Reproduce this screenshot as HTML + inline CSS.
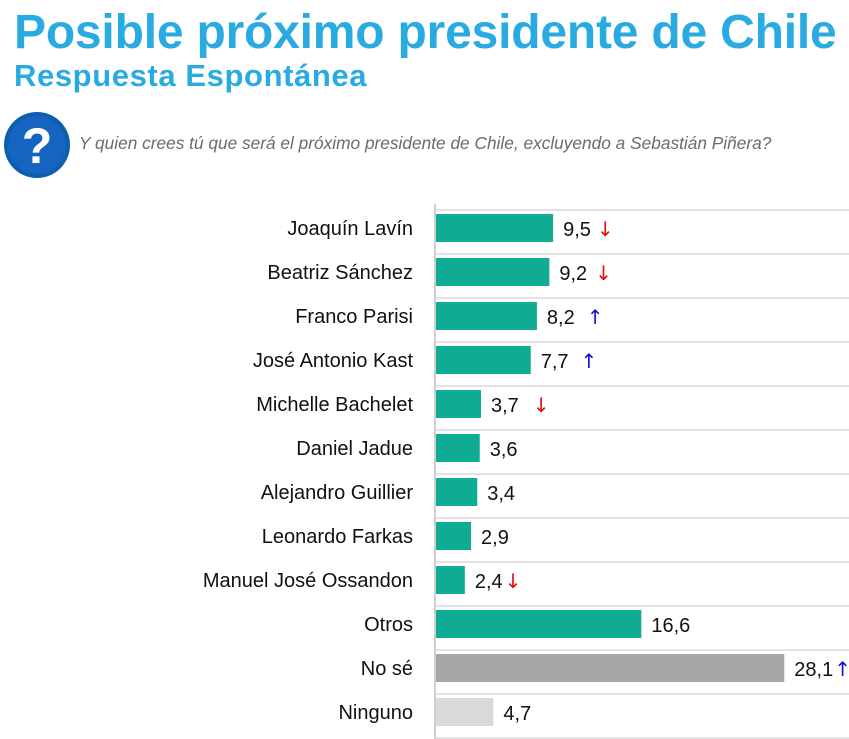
<!DOCTYPE html>
<html><head><meta charset="utf-8"><style>
body{margin:0;width:849px;height:739px;background:#fff;overflow:hidden;font-family:"Liberation Sans",sans-serif;position:relative}
#t1{position:absolute;left:14px;top:5px;font-size:48px;font-weight:bold;color:#29abe2;letter-spacing:-0.2px;white-space:nowrap}
#t2{position:absolute;left:14px;top:58px;font-size:31px;font-weight:bold;color:#29abe2;letter-spacing:0.6px;white-space:nowrap}
#q{position:absolute;left:79px;top:133px;font-size:17.3px;font-style:italic;color:#6b6b6b;white-space:nowrap}
svg{position:absolute;left:0;top:0}
</style></head><body>
<div id="t1">Posible próximo presidente de Chile</div>
<div id="t2">Respuesta Espontánea</div>
<svg width="80" height="200" style="left:0;top:0">
<circle cx="37" cy="145" r="33" fill="#0b5fb0"/><circle cx="37" cy="145" r="29" fill="#1565c0"/>
<text x="37" y="163" text-anchor="middle" font-size="50" font-weight="bold" fill="#fff" font-family="Liberation Sans">?</text></svg>
<div id="q">Y quien crees tú que será el próximo presidente de Chile, excluyendo a Sebastián Piñera?</div>
<svg id="chart" width="849" height="739"></svg>
<script>
const categories=["Joaquín Lavín","Beatriz Sánchez","Franco Parisi","José Antonio Kast","Michelle Bachelet","Daniel Jadue","Alejandro Guillier","Leonardo Farkas","Manuel José  Ossandon","Otros","No sé","Ninguno"];
const values=[9.5,9.2,8.2,7.7,3.7,3.6,3.4,2.9,2.4,16.6,28.1,4.7];
const labels=["9,5","9,2","8,2","7,7","3,7","3,6","3,4","2,9","2,4","16,6","28,1","4,7"];
const trends=["down","down","up","up","down","","","","down","","up",""];
const groups=["c","c","c","c","c","c","c","c","c","c","ns","n"];
const NS="http://www.w3.org/2000/svg";
const svg=document.getElementById('chart');
const x0=435,scale=12.43,top0=210,pitch=44,bh=28;
const xs=v=>x0+v*scale, yc=i=>top0+pitch*i+18;
const colors={c:"#0fab93",ns:"#a6a6a6",n:"#d9d9d9"};
const gaps=[6,8,12,12,14,0,0,0,2,0,1,0];
function mk(t,a){const e=document.createElementNS(NS,t);for(const k in a)e.setAttribute(k,a[k]);svg.appendChild(e);return e;}
for(let i=0;i<=categories.length;i++){
 const g=mk('line',{x1:x0,x2:849,y1:top0+pitch*i,y2:top0+pitch*i,stroke:"#e3e3e3","stroke-width":2});
 
 
}
const ax=mk('line',{x1:x0,x2:x0,y1:204,y2:739,stroke:"#d0d0d0","stroke-width":2});


categories.forEach((c,i)=>{
 const y=yc(i);
 const b=mk('rect',{x:x0+1,y:y-bh/2,width:xs(values[i])-x0-1,height:bh,fill:colors[groups[i]]});
 
 
 const l=mk('text',{x:413,y:y+7,"text-anchor":"end","font-size":20,fill:"#111","font-family":"Liberation Sans"});
 l.textContent=c;
 
 
 const v=mk('text',{x:xs(values[i])+10,y:y+8,"font-size":20,fill:"#111","font-family":"Liberation Sans"});
 v.textContent=labels[i];
 
 
 if(trends[i]){
  const w=v.getComputedTextLength();
  const ar=mk('text',{x:xs(values[i])+10+w+gaps[i],y:y+8,"font-size":20,fill:trends[i]=="up"?"#1010e0":"#e01010","font-family":"DejaVu Sans"});
  ar.textContent=trends[i]=="up"?"↑":"↓";
  
  
 }
});
</script>
</body></html>
